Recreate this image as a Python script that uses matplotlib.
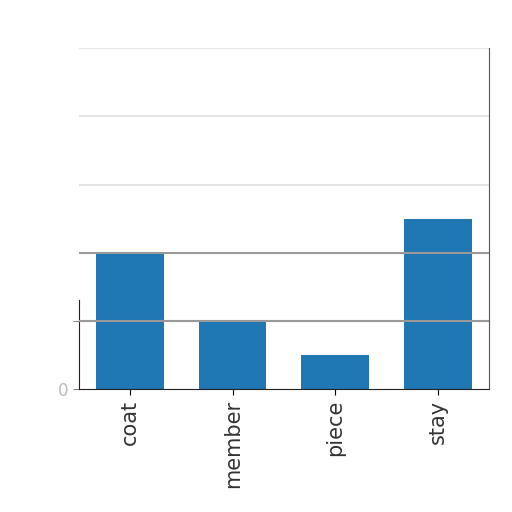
import matplotlib
matplotlib.use("Agg")
import matplotlib.pyplot as plt

categories = ["coat", "member", "piece", "stay"]
values = [2.0, 1.0, 0.5, 2.5]
grid_values = [1, 2, 3, 4, 5]
ytick_values = [0, 1]
ytick_labels = ["0", ""]

fig = plt.figure(figsize=(5.12, 5.12), dpi=100)
ax = fig.add_axes([0.154, 0.240, 0.801, 0.666])
x = list(range(len(categories)))
ax.bar(x, values, width=0.66, color="#1f77b4", zorder=1)
ax.set_xlim(-0.5, 3.5)
ax.set_ylim(0, 5)
ax.set_xticks(x)
ax.set_xticklabels(categories, rotation=90, fontsize=15, color="#333333")
ax.set_yticks(ytick_values)
ax.set_yticklabels(ytick_labels, fontsize=12, color="#bbbbbb")
for v in grid_values:
    alpha = 1.0 if v <= 2 else 0.25
    ax.axhline(v, color="#999999", lw=1.5, alpha=alpha, zorder=3)
ax.spines["top"].set_visible(False)
ax.spines["right"].set_color("#555555")
ax.spines["left"].set_bounds(0, 1.3)
ax.spines["left"].set_color("#222222")
ax.spines["bottom"].set_color("#222222")
ax.tick_params(axis="y", length=4, color="#888888")
ax.tick_params(axis="x", length=4)
fig.savefig("out.png", dpi=100)
